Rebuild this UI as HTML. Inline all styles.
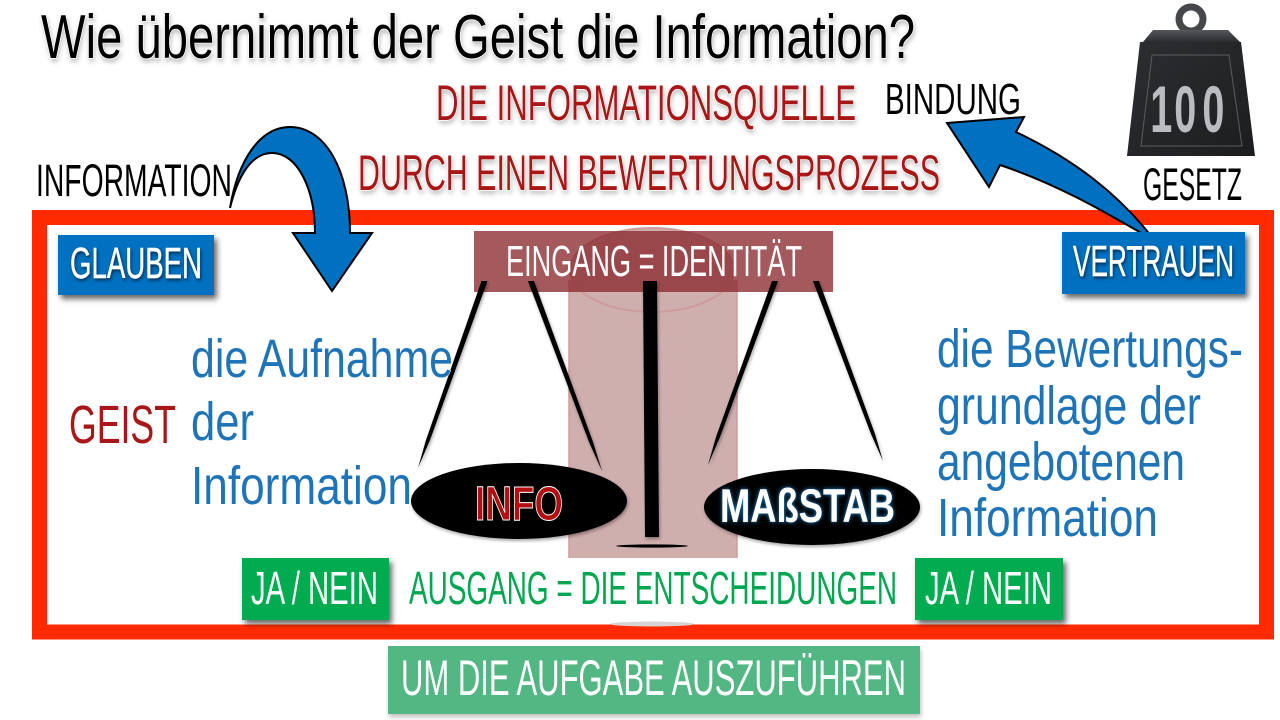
<!DOCTYPE html>
<html lang="de">
<head>
<meta charset="utf-8">
<title>Wie übernimmt der Geist die Information?</title>
<style>
html,body{margin:0;padding:0;background:#fff;width:1280px;height:720px;overflow:hidden}
svg{display:block}
text{font-family:"Liberation Sans",sans-serif}
.thin{paint-order:stroke;stroke-linejoin:round}
</style>
</head>
<body>
<svg width="1280" height="720" viewBox="0 0 1280 720" xmlns="http://www.w3.org/2000/svg">
<defs>
<filter id="sh" x="-10%" y="-20%" width="125%" height="150%"><feDropShadow dx="3" dy="4" stdDeviation="3" flood-color="#000" flood-opacity=".6"/></filter>
<filter id="ts" x="-5%" y="-20%" width="110%" height="150%"><feDropShadow dx="1" dy="3" stdDeviation="2.5" flood-color="#000" flood-opacity=".25"/></filter>
<filter id="ss" x="-30%" y="-5%" width="160%" height="110%"><feDropShadow dx="1" dy="2" stdDeviation="1.5" flood-color="#000" flood-opacity=".35"/></filter>
<filter id="ts2" x="-5%" y="-20%" width="110%" height="150%"><feDropShadow dx="1" dy="2" stdDeviation="1.5" flood-color="#000" flood-opacity=".6"/></filter>
<filter id="glow" x="-10%" y="-20%" width="120%" height="140%"><feDropShadow dx="0" dy="0" stdDeviation="2.2" flood-color="#1f8fe0" flood-opacity="1"/></filter>
<linearGradient id="top" x1="0" y1="0" x2="0" y2="1"><stop offset="0" stop-color="#55585b"/><stop offset="1" stop-color="#2a2c2f"/></linearGradient>
<linearGradient id="body" x1="0" y1="0" x2="1" y2="1"><stop offset="0" stop-color="#2c2e31"/><stop offset="1" stop-color="#1c1d1f"/></linearGradient>
</defs>

<!-- Frame -->
<rect x="39.5" y="217.5" width="1227" height="414.5" fill="#fff" stroke="#ff2a00" stroke-width="15"/>

<!-- Scale background -->
<path d="M569,280 L737,280 L737,558 L569,558Z" fill="#cfaeae"/>
<path d="M569,280 L569,558 M737,280 L737,558" stroke="#d39a9a" stroke-width="1.5" fill="none"/>
<ellipse cx="652" cy="270" rx="82" ry="42" fill="#cfaeae" stroke="#cf9c9c" stroke-width="2"/>
<ellipse cx="652" cy="624" rx="42" ry="2.5" fill="#d8d4d4"/>

<!-- Heading -->
<text x="41" y="58" font-size="62" fill="#000" stroke="#fff" stroke-width="1.4" class="thin" textLength="874" lengthAdjust="spacingAndGlyphs" filter="url(#ts)">Wie übernimmt der Geist die Information?</text>
<text x="436" y="120" font-size="50" fill="#a81818" stroke="#fff" stroke-width="1.2" class="thin" textLength="420" lengthAdjust="spacingAndGlyphs" filter="url(#ts)">DIE INFORMATIONSQUELLE</text>
<text x="358" y="190" font-size="50" fill="#a81818" stroke="#fff" stroke-width="1.2" class="thin" textLength="582" lengthAdjust="spacingAndGlyphs" filter="url(#ts)">DURCH EINEN BEWERTUNGSPROZESS</text>
<text x="885" y="114" font-size="44" fill="#000" stroke="#fff" stroke-width=".5" class="thin" textLength="136" lengthAdjust="spacingAndGlyphs">BINDUNG</text>
<text x="36" y="196" font-size="45" fill="#000" stroke="#fff" stroke-width=".5" class="thin" textLength="196" lengthAdjust="spacingAndGlyphs">INFORMATION</text>
<text x="1143" y="200" font-size="45" fill="#000" stroke="#fff" stroke-width=".5" class="thin" textLength="99" lengthAdjust="spacingAndGlyphs">GESETZ</text>

<!-- Weight -->
<circle cx="1191" cy="19" r="12" fill="none" stroke="#45474a" stroke-width="7"/>
<polygon points="1153,30 1228,30 1240,42 1143,42" fill="url(#top)"/>
<polygon points="1140,42 1241,42 1255,156 1127,156" fill="url(#body)"/>
<polygon points="1152,55 1229,55 1242,146 1141,146" fill="none" stroke="#5a5c5f" stroke-width="1"/>
<text transform="translate(1152,132) scale(.6,1)" x="-3 37 84" y="0" font-size="66" font-weight="700" fill="#b9bdc1">100</text>

<!-- Blue arrows -->
<path d="M230,208 C238,160 260,127 290,127 C325,127 350,170 350,233 L372,233 L332,291 L293,233 L315,233 C315,190 298,153 272,153 C252,153 238,175 230,208Z" fill="#0070c0" stroke="#000" stroke-width="2" stroke-linejoin="miter"/>
<path d="M1155,241 C1120,195 1075,160 1016,132 L1024,117 L947,123 L989,187 L1000,165 C1060,185 1110,215 1155,241Z" fill="#0070c0" stroke="#000" stroke-width="2" stroke-linejoin="miter"/>

<!-- Tags -->
<rect x="58" y="235" width="156" height="60" fill="#0070c0" filter="url(#sh)"/>
<text x="70" y="278" font-size="44" fill="#fff" stroke="#fff" stroke-width=".4" textLength="132" lengthAdjust="spacingAndGlyphs" filter="url(#ts2)">GLAUBEN</text>
<rect x="1062" y="232" width="183" height="62" fill="#0070c0" filter="url(#sh)"/>
<text x="1073" y="276" font-size="44" fill="#fff" stroke="#fff" stroke-width=".4" textLength="161" lengthAdjust="spacingAndGlyphs" filter="url(#ts2)">VERTRAUEN</text>

<rect x="474" y="231" width="359" height="61" fill="#8b2a30" fill-opacity=".78"/>
<text x="506" y="276" font-size="44" fill="#fff" stroke="#a05558" stroke-width=".9" class="thin" textLength="296" lengthAdjust="spacingAndGlyphs">EINGANG = IDENTITÄT</text>

<!-- Scale -->
<polygon points="643,281 657,281 659,537 645,537" fill="#000" filter="url(#ss)"/>
<ellipse cx="652" cy="546" rx="36" ry="1.6" fill="#000"/>
<polygon points="481.5,281 487.5,281 430,440 418,468 426,440" fill="#000" filter="url(#ss)"/>
<polygon points="528,281 534,281 593,442 602,471 589,442" fill="#000" filter="url(#ss)"/>
<polygon points="772,281 778,281 720,437 708,465 716,437" fill="#000" filter="url(#ss)"/>
<polygon points="813,281 819,281 875,434 883,461 871,434" fill="#000" filter="url(#ss)"/>

<!-- Blue texts -->
<g font-size="54" fill="#1f74b8" stroke="#fff" stroke-width="1.1" class="thin">
<text x="191" y="377" textLength="262" lengthAdjust="spacingAndGlyphs">die Aufnahme</text>
<text x="191" y="440" textLength="63" lengthAdjust="spacingAndGlyphs">der</text>
<text x="191" y="504" textLength="221" lengthAdjust="spacingAndGlyphs">Information</text>
<text x="937" y="367" textLength="306" lengthAdjust="spacingAndGlyphs">die Bewertungs-</text>
<text x="937" y="424" textLength="264" lengthAdjust="spacingAndGlyphs">grundlage der</text>
<text x="937" y="480" textLength="248" lengthAdjust="spacingAndGlyphs">angebotenen</text>
<text x="937" y="536" textLength="221" lengthAdjust="spacingAndGlyphs">Information</text>
</g>
<text x="69" y="443" font-size="54" fill="#a81818" stroke="#fff" stroke-width="1.1" class="thin" textLength="107" lengthAdjust="spacingAndGlyphs">GEIST</text>

<!-- Pans -->
<ellipse cx="519" cy="501" rx="108" ry="38" fill="#000" filter="url(#ss)"/>
<ellipse cx="812" cy="507" rx="108" ry="38" fill="#000" filter="url(#ss)"/>
<text x="475" y="520" font-size="48" font-weight="700" fill="#b01010" stroke="#fff" stroke-width="1" textLength="88" lengthAdjust="spacingAndGlyphs">INFO</text>
<text x="720" y="522" font-size="47" font-weight="700" fill="#fff" textLength="175" lengthAdjust="spacingAndGlyphs" filter="url(#glow)">MAßSTAB</text>

<!-- Bottom row -->
<rect x="390" y="558" width="524" height="62" fill="#fff"/>
<rect x="242" y="558" width="147" height="62" fill="#00ac50" filter="url(#sh)"/>
<rect x="915" y="558" width="148" height="62" fill="#00ac50" filter="url(#sh)"/>
<text x="251" y="604" font-size="46" fill="#fff" stroke="#00ac50" stroke-width="1.1" class="thin" textLength="127" lengthAdjust="spacingAndGlyphs">JA / NEIN</text>
<text x="925" y="604" font-size="46" fill="#fff" stroke="#00ac50" stroke-width="1.1" class="thin" textLength="127" lengthAdjust="spacingAndGlyphs">JA / NEIN</text>
<text x="409" y="604" font-size="46" fill="#00a650" stroke="#fff" stroke-width=".7" class="thin" textLength="488" lengthAdjust="spacingAndGlyphs">AUSGANG = DIE ENTSCHEIDUNGEN</text>

<rect x="388" y="646" width="532" height="68" fill="#52b784" filter="url(#ts)"/>
<text x="401" y="695" font-size="50" fill="#fff" stroke="#52b784" stroke-width="1.2" class="thin" textLength="505" lengthAdjust="spacingAndGlyphs">UM DIE AUFGABE AUSZUFÜHREN</text>
</svg>
</body>
</html>
